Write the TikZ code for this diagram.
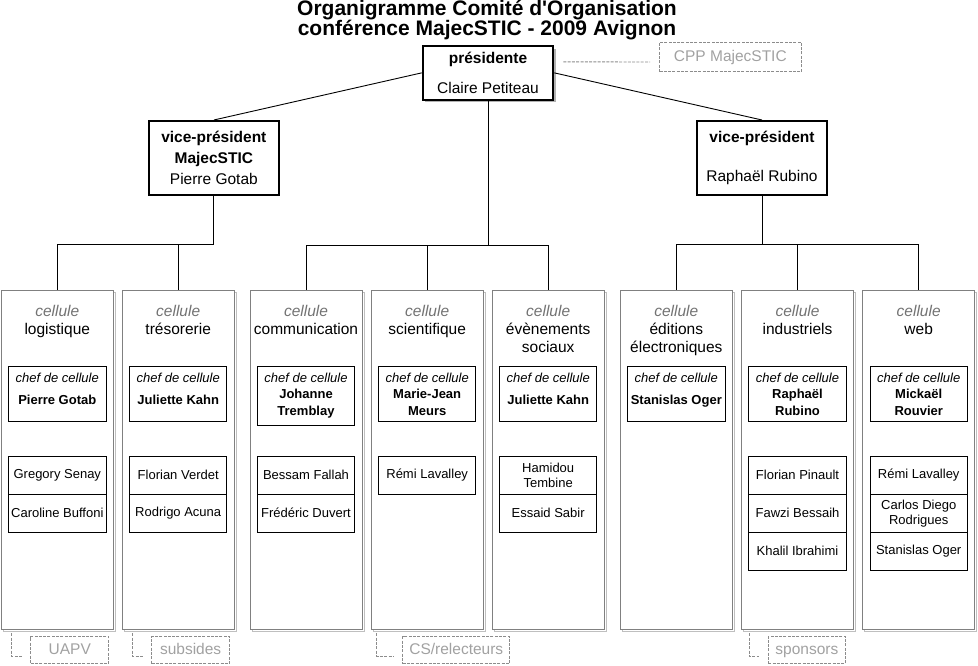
\documentclass[tikz,border=0pt]{standalone}
\usepackage{fontspec}
\setmainfont{Liberation Sans}
\usetikzlibrary{positioning}
\usetikzlibrary{shadows}

\begin{document}
\begin{tikzpicture}[x=1pt, y=-1pt]
  \tikzstyle{headbox}=[rectangle, draw=black, line width=2pt, fill=white, align=center, inner sep=0pt, font=\fontsize{15.5}{21.3}\selectfont]
  \tikzstyle{cellbox}=[rectangle, draw=black!50, line width=0.9pt, fill=white, minimum width=112pt, minimum height=339pt, anchor=north, inner sep=0pt, general shadow={shadow xshift=2pt, shadow yshift=-2pt, draw=black!25, fill=white}]
  \tikzstyle{celltitle}=[align=center, anchor=north, inner sep=0pt, font=\fontsize{15.5}{18.3}\selectfont]
  \tikzstyle{chefbox}=[rectangle, draw=black, line width=0.9pt, minimum width=97.4pt, anchor=north, inner sep=0pt]
  \tikzstyle{cheftext}=[align=center, anchor=north, inner sep=0pt, font=\bfseries\fontsize{13}{16.7}\selectfont]
  \tikzstyle{teambox}=[rectangle, draw=black, line width=0.9pt, minimum width=97.4pt, minimum height=38pt, anchor=north, align=center, inner sep=0pt, font=\fontsize{13}{15}\selectfont]
  \tikzstyle{extbox}=[rectangle, draw=black!45, line width=0.9pt, dash pattern=on 3pt off 1.3pt, text=black!37, minimum height=27pt, inner sep=0pt, text height=11.3pt, text depth=3.3pt, font=\fontsize{15.5}{18}\selectfont]
  \tikzstyle{connect}=[line width=0.9pt]
  \tikzstyle{extlink}=[draw=black!45, line width=0.9pt, dash pattern=on 3pt off 1.3pt]

  \useasboundingbox (0,0) rectangle (978,665);

  \node[font=\bfseries\fontsize{21}{20}\selectfont, align=center] (title) at (487,20.5)
    {Organigramme Comité d\textquotesingle Organisation\\conférence MajecSTIC - 2009 Avignon};

  % presidence
  \node[headbox, minimum width=130.6pt, minimum height=53.7pt, general shadow={shadow xshift=2.5pt, shadow yshift=-2.5pt, fill=black!30}] (pres) at (488,72.85)
    {\textbf{présidente}\\[8pt]Claire Petiteau};
  \node[headbox, minimum width=130.3pt, minimum height=74pt] (vpl) at (213.85,158)
    {\textbf{vice-président}\\\textbf{MajecSTIC}\\Pierre Gotab};
  \node[headbox, minimum width=130.6pt, minimum height=74pt] (vpr) at (762,158)
    {\textbf{vice-président}\\[18.4pt]Raphaël Rubino};
  \node[extbox, minimum width=141.7pt, minimum height=29.6pt] (cpp) at (730.35,57) {CPP MajecSTIC};

  % cellules
  \foreach \x/\n/\cname/\gap/\chef/\chefh in
    { 57.3/1/logistique/5.6pt/Pierre Gotab/55
    , 178.2/2/trésorerie/5.6pt/Juliette Kahn/55
    , 306/3/communication/0pt/{Johanne\\Tremblay}/59
    , 427.2/4/scientifique/0pt/{Marie-Jean\\Meurs}/55
    , 548.2/5/{évènements\\sociaux}/5.6pt/Juliette Kahn/55
    , 676.3/6/{éditions\\électroniques}/5.6pt/Stanislas Oger/55
    , 797.5/7/industriels/0pt/{Raphaël\\Rubino}/55
    , 918.7/8/web/0pt/{Mickaël\\Rouvier}/55
    }
  {
    \node[cellbox] (cell\n) at (\x,290) {};
    \node[celltitle] (title\n) at (\x,304.6) {\textit{\color{black!55}cellule}\\\cname};
    \node[chefbox, minimum height=\chefh pt] (chef\n) at (\x,365.8) {};
    \node[cheftext] (chefname\n) at (\x,372.5) {\textit{\mdseries chef de cellule}\\[\gap]\chef};
  }

  % membres
  \foreach \who/\n/\row in
    { Gregory Senay/1/1, Caroline Buffoni/1/2
    , Florian Verdet/2/1, Rodrigo Acuna/2/2
    , Bessam Fallah/3/1, Frédéric Duvert/3/2
    , Rémi Lavalley/4/1
    , {Hamidou\\Tembine}/5/1, Essaid Sabir/5/2
    , Florian Pinault/7/1, Fawzi Bessaih/7/2, Khalil Ibrahimi/7/3
    , Rémi Lavalley/8/1, {Carlos Diego\\Rodrigues}/8/2, Stanislas Oger/8/3
    }
    \node[teambox] (team\n-\row) at (chef\n.north |- 0,417.8+38*\row) {\who};

  % liens
  \draw[connect] (pres.west) -- (vpl.north);
  \draw[connect] (pres.east) -- (vpr.north);
  \foreach \c in {1,2}
    \draw[connect] (vpl.south) -- ++(0,48.3) -| (cell\c.north);
  \foreach \c in {3,4,5}
    \draw[connect] (pres.south) -- ++(0,144.6) -| (cell\c.north);
  \foreach \c in {6,7,8}
    \draw[connect] (vpr.south) -- ++(0,48.3) -| (cell\c.north);

  % partenaires
  \foreach \x/\w/\lab/\txt in {69.8/78/uapv/UAPV, 190.65/77.7/subsides/subsides, 456.3/107/cs/{CS/relecteurs}, 806.85/77.3/sponsors/sponsors}
    \node[extbox, minimum width=\w pt] (\lab) at (\x,650) {\txt};
  \foreach \c/\lab/\dx in {1/uapv/10.7, 2/subsides/10.6, 4/cs/6, 7/sponsors/8}
    \draw[extlink] ([xshift=\dx pt, yshift=-3.5pt]cell\c.south west) |- ([xshift=-8.6pt, yshift=-6pt]\lab.west);
  \draw[extlink] ([xshift=9pt, yshift=11pt]pres.east) -- ([xshift=-9pt, yshift=-5pt]cpp.west);
\end{tikzpicture}
\end{document}
